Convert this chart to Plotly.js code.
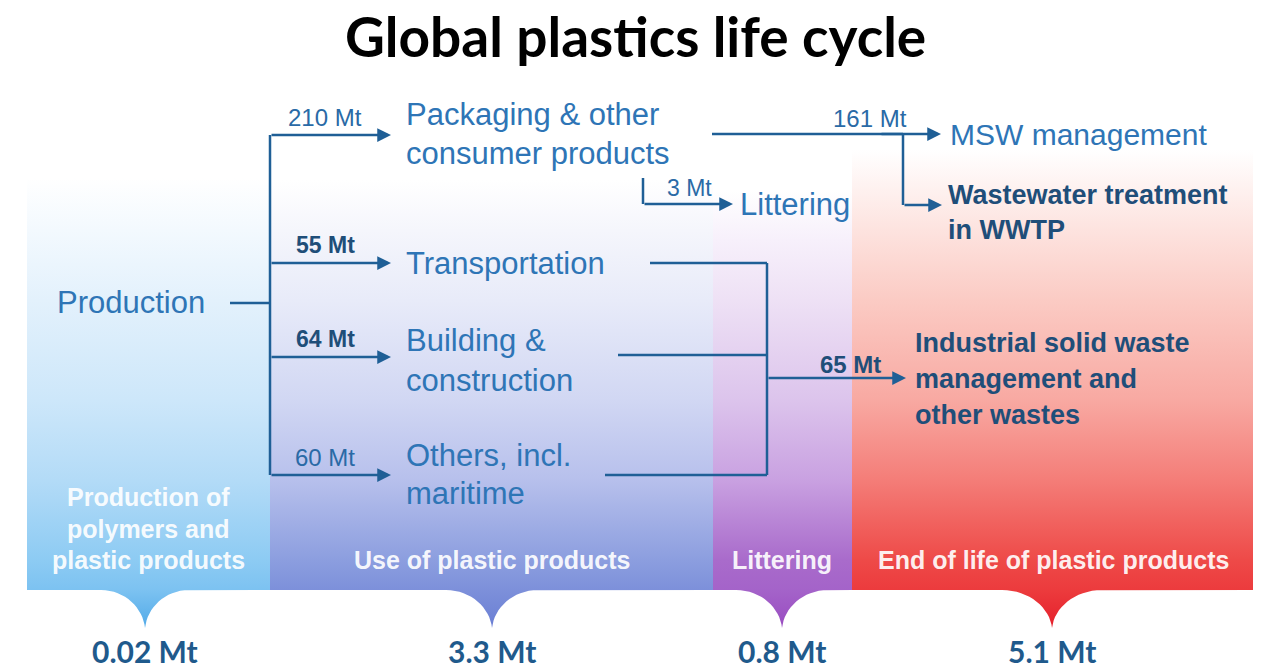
<!DOCTYPE html>
<html><head><meta charset="utf-8">
<script src="https://cdn.plot.ly/plotly-3.0.1.min.js"></script>
<style>html,body{margin:0;padding:0;background:#fff;overflow:hidden}#chart{width:1261px;height:670px;}</style>
</head><body><div id="chart"></div>
<script>
// ---------------- data ----------------
const chartTitle = 'Global plastics life cycle';
const unit = 'Mt';
const stageNames = [['Production of', 'polymers and', 'plastic products'], ['Use of plastic products'], ['Littering'], ['End of life of plastic products']];
const stageTotals = [0.02, 3.3, 0.8, 5.1];
const sourceLabel = 'Production';
const sectorNames = [['Packaging & other', 'consumer products'], ['Transportation'], ['Building &', 'construction'], ['Others, incl.', 'maritime']];
const sectorFlows = [210, 55, 64, 60];
const packagingTargets = [['MSW management'], ['Littering']];
const packagingFlows = [161, 3];
const wastewaterLabel = ['Wastewater treatment', 'in WWTP'];
const industrialLabel = ['Industrial solid waste', 'management and', 'other wastes'];
const industrialFlow = 65;

// ---------------- drawing ----------------
const LINE = '#1f5f96';
const BLUE_TXT = '#2e75b6';
const NAVY_TXT = '#1f4e79';
const SANS = 'Liberation Sans, Arial, sans-serif';
const traces = [];
const ann = [];

function bezier(p0, p1, p2, p3, n) {
  const pts = [];
  for (let i = 0; i <= n; i++) {
    const t = i / n, u = 1 - t;
    pts.push([u*u*u*p0[0] + 3*u*u*t*p1[0] + 3*u*t*t*p2[0] + t*t*t*p3[0],
              u*u*u*p0[1] + 3*u*u*t*p1[1] + 3*u*t*t*p2[1] + t*t*t*p3[1]]);
  }
  return pts;
}

// stage bands (background gradients with pointer)
const BOT = 590, TIP = 628;
const bands = [
  {x0: 27, x1: 270, top: 178, cx: 145, hw: 44,
   stops: [[628, '#52aae8'], [590, '#7cc2f1'], [560, '#8dcbf3'], [480, '#b3dbf7'], [400, '#cde7fa'], [300, '#e3f1fc'], [230, '#f3f9fe'], [178, '#ffffff']]},
  {x0: 270, x1: 713, top: 180, cx: 492, hw: 46,
   stops: [[628, '#6a7ed4'], [590, '#7d90da'], [560, '#8c9edf'], [480, '#b7c0ec'], [400, '#d1d7f3'], [300, '#e8ebf9'], [230, '#f5f6fc'], [180, '#ffffff']]},
  {x0: 713, x1: 852, top: 190, cx: 782, hw: 46,
   stops: [[628, '#994cc1'], [590, '#a463c9'], [560, '#a96bcb'], [480, '#c9a1e1'], [400, '#dcc4ec'], [300, '#eee1f5'], [240, '#f7f0fb'], [190, '#ffffff']]},
  {x0: 852, x1: 1253, top: 150, cx: 1052, hw: 50,
   stops: [[628, '#e5202b'], [590, '#ec3b3d'], [560, '#ee4a48'], [480, '#f47d78'], [400, '#f8a9a2'], [300, '#fbcbc4'], [230, '#fde3df'], [150, '#ffffff']]}
];
bands.forEach(b => {
  const pts = [[b.x0, b.top], [b.x1, b.top], [b.x1, BOT], [b.cx + b.hw, BOT]];
  bezier([b.cx + b.hw, BOT], [b.cx + b.hw * 0.45, BOT], [b.cx + 2, TIP - 20], [b.cx, TIP], 16).slice(1).forEach(p => pts.push(p));
  bezier([b.cx, TIP], [b.cx - 2, TIP - 20], [b.cx - b.hw * 0.45, BOT], [b.cx - b.hw, BOT], 16).slice(1).forEach(p => pts.push(p));
  pts.push([b.x0, BOT]);
  pts.push([b.x0, b.top]);
  const span = TIP - b.top;
  traces.push({
    type: 'scatter', mode: 'lines', x: pts.map(p => p[0]), y: pts.map(p => p[1]),
    fill: 'toself', line: {width: 0, color: 'rgba(0,0,0,0)'},
    fillgradient: {type: 'vertical', start: TIP, stop: b.top,
      colorscale: b.stops.map(s => [(TIP - s[0]) / span, s[1]])},
    hoverinfo: 'skip', showlegend: false
  });
});

function seg(xs, ys) {
  traces.push({type: 'scatter', mode: 'lines', x: xs, y: ys, line: {color: LINE, width: 2.5},
    hoverinfo: 'skip', showlegend: false});
}
function arrow(x0, y, x1) {
  ann.push({x: x1, y: y, ax: x0, ay: y, xref: 'x', yref: 'y', axref: 'x', ayref: 'y', text: '',
    showarrow: true, arrowhead: 2, arrowsize: 1.1, arrowwidth: 2.5, arrowcolor: LINE, standoff: 0});
}
function txt(x, y, t, opt) {
  ann.push(Object.assign({x: x, y: y, xref: 'x', yref: 'y', text: t, showarrow: false,
    xanchor: 'left', yanchor: 'middle', font: {family: SANS, size: 31, color: BLUE_TXT}}, opt || {}));
}
function lines(x, ys, arr, opt) { arr.forEach((t, i) => txt(x, ys[i], t, opt)); }
const mt = v => v + ' ' + unit;

// title
txt(635, 36, '<b>' + chartTitle + '</b>', {xanchor: 'center', font: {family: 'Lato, Open Sans, sans-serif', size: 55, color: '#000'}});

// production -> sectors
txt(55, 302, sourceLabel);
seg([230, 270], [303, 303]);
const sectorY = [135, 263, 357, 475];
seg([270, 270], [sectorY[0], sectorY[3]]);
const sectorTextY = [[114, 153], [263], [340, 380], [455, 493]];
const flowBold = [false, true, true, false];
sectorFlows.forEach((v, i) => {
  arrow(270, sectorY[i], 391);
  txt(325, sectorY[i] - 18, flowBold[i] ? '<b>' + mt(v) + '</b>' : mt(v),
      {xanchor: 'center', font: {family: SANS, size: flowBold[i] ? 23 : 24, color: flowBold[i] ? NAVY_TXT : '#2a6aa6'}});
  lines(404, sectorTextY[i], sectorNames[i]);
});

// packaging -> MSW / wastewater / littering
seg([712, 903], [134, 134]);
arrow(880, 134, 941);
txt(870, 118, mt(packagingFlows[0]), {xanchor: 'center', font: {family: SANS, size: 24, color: '#2a6aa6'}});
lines(948, [134], packagingTargets[0], {font: {family: SANS, size: 30, color: BLUE_TXT}});
seg([903, 903], [134, 205]);
arrow(903, 205, 942);
wastewaterLabel.forEach((t, i) => txt(946, [195, 230][i], '<b>' + t + '</b>', {font: {family: SANS, size: 27, color: NAVY_TXT}}));
seg([643, 643], [178, 204]);
arrow(643, 204, 733);
txt(689, 188, mt(packagingFlows[1]), {xanchor: 'center', font: {family: SANS, size: 23, color: '#2a6aa6'}});
lines(738, [204], packagingTargets[1]);

// other sectors -> industrial
seg([650, 767], [263, 263]);
seg([618, 767], [355, 355]);
seg([605, 767], [475, 475]);
seg([767, 767], [263, 475]);
arrow(767, 378, 906);
txt(850, 364, '<b>' + mt(industrialFlow) + '</b>', {xanchor: 'center', font: {family: SANS, size: 24, color: NAVY_TXT}});
industrialLabel.forEach((t, i) => txt(913, [343, 379, 415][i], '<b>' + t + '</b>', {font: {family: SANS, size: 27, color: NAVY_TXT}}));

// stage labels and totals
const stageLabelY = [[497, 529, 560], [560], [560], [560]];
bands.forEach((b, i) => {
  stageNames[i].forEach((t, j) => txt(i === 0 ? 148 : (i === 3 ? 1053 : b.cx), stageLabelY[i][j], '<b>' + t + '</b>',
    {xanchor: 'center', font: {family: SANS, size: 25, color: 'rgba(255,255,255,0.93)'}}));
  txt(b.cx, 651, '<b>' + mt(stageTotals[i]) + '</b>', {xanchor: 'center', font: {family: 'Lato, Open Sans, sans-serif', size: 30, color: '#1f5a8c'}});
});

const layout = {
  width: 1261, height: 670, margin: {l: 0, r: 0, t: 0, b: 0},
  paper_bgcolor: '#fff', plot_bgcolor: '#fff',
  xaxis: {range: [0, 1261], visible: false, fixedrange: true},
  yaxis: {range: [670, 0], visible: false, fixedrange: true},
  annotations: ann, showlegend: false
};
Plotly.newPlot('chart', traces, layout, {staticPlot: true, displayModeBar: false});
</script></body></html>
